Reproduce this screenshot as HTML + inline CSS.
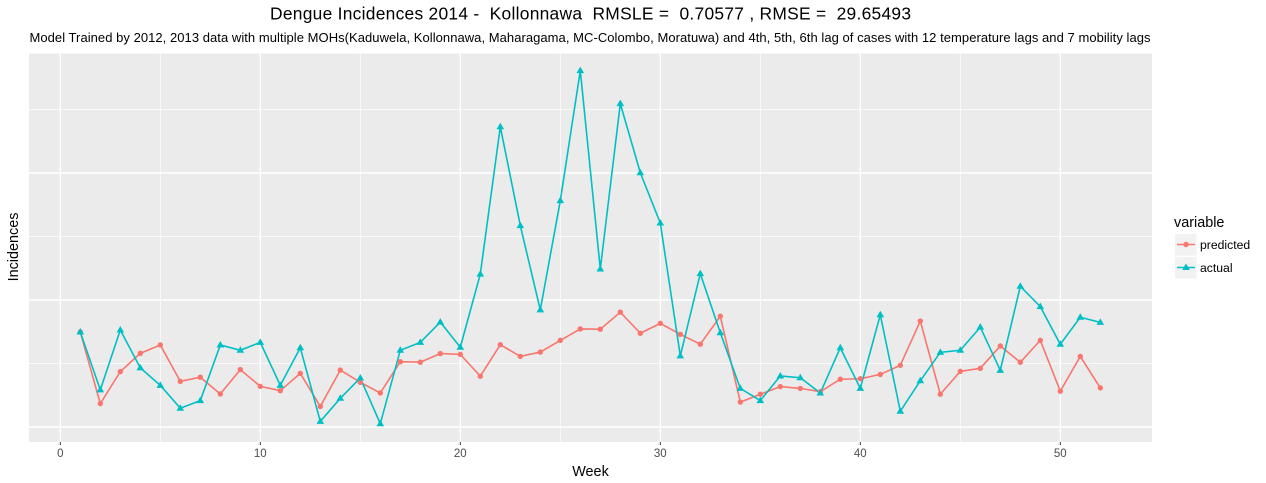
<!DOCTYPE html>
<html>
<head>
<meta charset="utf-8">
<title>Dengue Incidences 2014 - Kollonnawa</title>
<style>
html,body{margin:0;padding:0;background:#fff;width:1266px;height:483px;overflow:hidden}
svg{display:block}
text{font-family:"Liberation Sans",sans-serif;white-space:pre}
</style>
</head>
<body>
<svg id="chart" width="1266" height="483" viewBox="0 0 1266 483" xmlns="http://www.w3.org/2000/svg">
  <rect x="29" y="53.5" width="1123" height="388.5" fill="#ebebeb"/>
  <g id="grid"></g>
  <g id="series"></g>
  <g id="xaxis"></g>
  <text x="590.5" y="19.5" font-size="17.4" text-anchor="middle" fill="#000" textLength="641" lengthAdjust="spacing" xml:space="preserve">Dengue Incidences 2014 -  Kollonnawa  RMSLE =  0.70577 , RMSE =  29.65493</text>
  <text x="29.5" y="42" font-size="13" fill="#000" textLength="1121" lengthAdjust="spacing">Model Trained by 2012, 2013 data with multiple MOHs(Kaduwela, Kollonnawa, Maharagama, MC-Colombo, Moratuwa) and 4th, 5th, 6th lag of cases with 12 temperature lags and 7 mobility lags</text>
  <text x="590.5" y="476" font-size="14.4" text-anchor="middle" fill="#000">Week</text>
  <text transform="translate(18,247) rotate(-90)" font-size="14.4" text-anchor="middle" fill="#000">Incidences</text>
  <g id="legend">
    <text x="1174" y="227" font-size="14.4" fill="#000">variable</text>
    <rect x="1175" y="234" width="21.5" height="21.5" fill="#f2f2f2"/>
    <rect x="1175" y="257" width="21.5" height="21.5" fill="#f2f2f2"/>
    <line x1="1177" x2="1195" y1="244.5" y2="244.5" stroke="#F8766D" stroke-width="1.6"/>
    <circle cx="1186" cy="244.5" r="2.7" fill="#F8766D"/>
    <line x1="1177" x2="1195" y1="267.5" y2="267.5" stroke="#00BFC4" stroke-width="1.6"/>
    <polygon points="1186,263.5 1189.8,270 1182.2,270" fill="#00BFC4"/>
    <text x="1200" y="249" font-size="12.2" fill="#000">predicted</text>
    <text x="1200" y="272" font-size="12.2" fill="#000">actual</text>
  </g>
</svg>
<script>
const weeks = [1,2,3,4,5,6,7,8,9,10,11,12,13,14,15,16,17,18,19,20,21,22,23,24,25,26,27,28,29,30,31,32,33,34,35,36,37,38,39,40,41,42,43,44,45,46,47,48,49,50,51,52];
const predicted = [37.4,9.2,21.8,29.0,32.3,18.0,19.6,13.0,22.6,16.0,14.3,21.1,8.1,22.4,17.6,13.4,25.7,25.5,28.9,28.6,20.0,32.4,27.8,29.5,34.1,38.6,38.5,45.2,36.9,40.8,36.5,32.6,43.6,9.8,12.9,15.9,15.2,13.9,18.8,19.0,20.7,24.3,41.7,12.9,21.9,23.1,31.9,25.5,34.1,14.1,27.8,15.4];
const actual = [37.4,14.6,38.2,23.3,16.4,7.4,10.4,32.3,30.2,33.3,16.4,31.2,2.2,11.3,19.3,1.3,30.2,33.3,41.3,31.4,60.2,118.2,79.3,46.1,89.1,140.3,62.2,127.3,100.1,80.3,28.0,60.4,37.1,15.2,10.4,20.1,19.4,13.4,31.2,15.2,44.2,6.2,18.2,29.4,30.2,39.3,22.3,55.4,47.4,32.6,43.2,41.2];
const xMajorTicks = [0,10,20,30,40,50];
const xMinorTicks = [5,15,25,35,45];
const yMajorTicks = [0,50,100];
const yMinorTicks = [25,75,125];

const NS = 'http://www.w3.org/2000/svg';
const panel = {left: 29, right: 1152, top: 53.5, bottom: 442};
function xScale(v) { return 60.3 + v * 20; }
function yScale(v) { return 427 - v * 2.54; }
function make(tag, attrs) {
  const el = document.createElementNS(NS, tag);
  Object.keys(attrs).forEach(function (k) { el.setAttribute(k, attrs[k]); });
  return el;
}

const grid = document.getElementById('grid');
yMinorTicks.forEach(function (t) {
  const el = make('line', {x1: panel.left, x2: panel.right, y1: yScale(t), y2: yScale(t), stroke: '#fff', 'stroke-width': 0.7});
  
  
  grid.appendChild(el);
});
xMinorTicks.forEach(function (t) {
  const el = make('line', {x1: xScale(t), x2: xScale(t), y1: panel.top, y2: panel.bottom, stroke: '#fff', 'stroke-width': 0.7});
  
  
  grid.appendChild(el);
});
yMajorTicks.forEach(function (t) {
  const el = make('line', {x1: panel.left, x2: panel.right, y1: yScale(t), y2: yScale(t), stroke: '#fff', 'stroke-width': 1.4});
  
  
  grid.appendChild(el);
});
xMajorTicks.forEach(function (t) {
  const el = make('line', {x1: xScale(t), x2: xScale(t), y1: panel.top, y2: panel.bottom, stroke: '#fff', 'stroke-width': 1.4});
  
  
  grid.appendChild(el);
});

const xaxis = document.getElementById('xaxis');
xMajorTicks.forEach(function (t) {
  const tick = make('line', {x1: xScale(t), x2: xScale(t), y1: panel.bottom, y2: panel.bottom + 3, stroke: '#333', 'stroke-width': 1});
  
  
  xaxis.appendChild(tick);
  const label = make('text', {x: xScale(t), y: 457, 'font-size': 11.5, 'text-anchor': 'middle', fill: '#4d4d4d'});
  
  
  label.textContent = String(t);
  xaxis.appendChild(label);
});

const seriesLayer = document.getElementById('series');
function linePoints(values) {
  return values.map(function (v, i) { return xScale(weeks[i]) + ',' + yScale(v); }).join(' ');
}

const predictedLine = make('polyline', {points: linePoints(predicted), fill: 'none', stroke: '#F8766D', 'stroke-width': 1.6});


seriesLayer.appendChild(predictedLine);

const actualLine = make('polyline', {points: linePoints(actual), fill: 'none', stroke: '#00BFC4', 'stroke-width': 1.6});


seriesLayer.appendChild(actualLine);

predicted.forEach(function (v, i) {
  const c = make('circle', {cx: xScale(weeks[i]), cy: yScale(v), r: 2.7, fill: '#F8766D'});
  
  
  seriesLayer.appendChild(c);
});
actual.forEach(function (v, i) {
  const x = xScale(weeks[i]);
  const y = yScale(v);
  const p = make('polygon', {points: x + ',' + (y - 4) + ' ' + (x + 3.8) + ',' + (y + 2.5) + ' ' + (x - 3.8) + ',' + (y + 2.5), fill: '#00BFC4'});
  
  
  seriesLayer.appendChild(p);
});
</script>
</body>
</html>
